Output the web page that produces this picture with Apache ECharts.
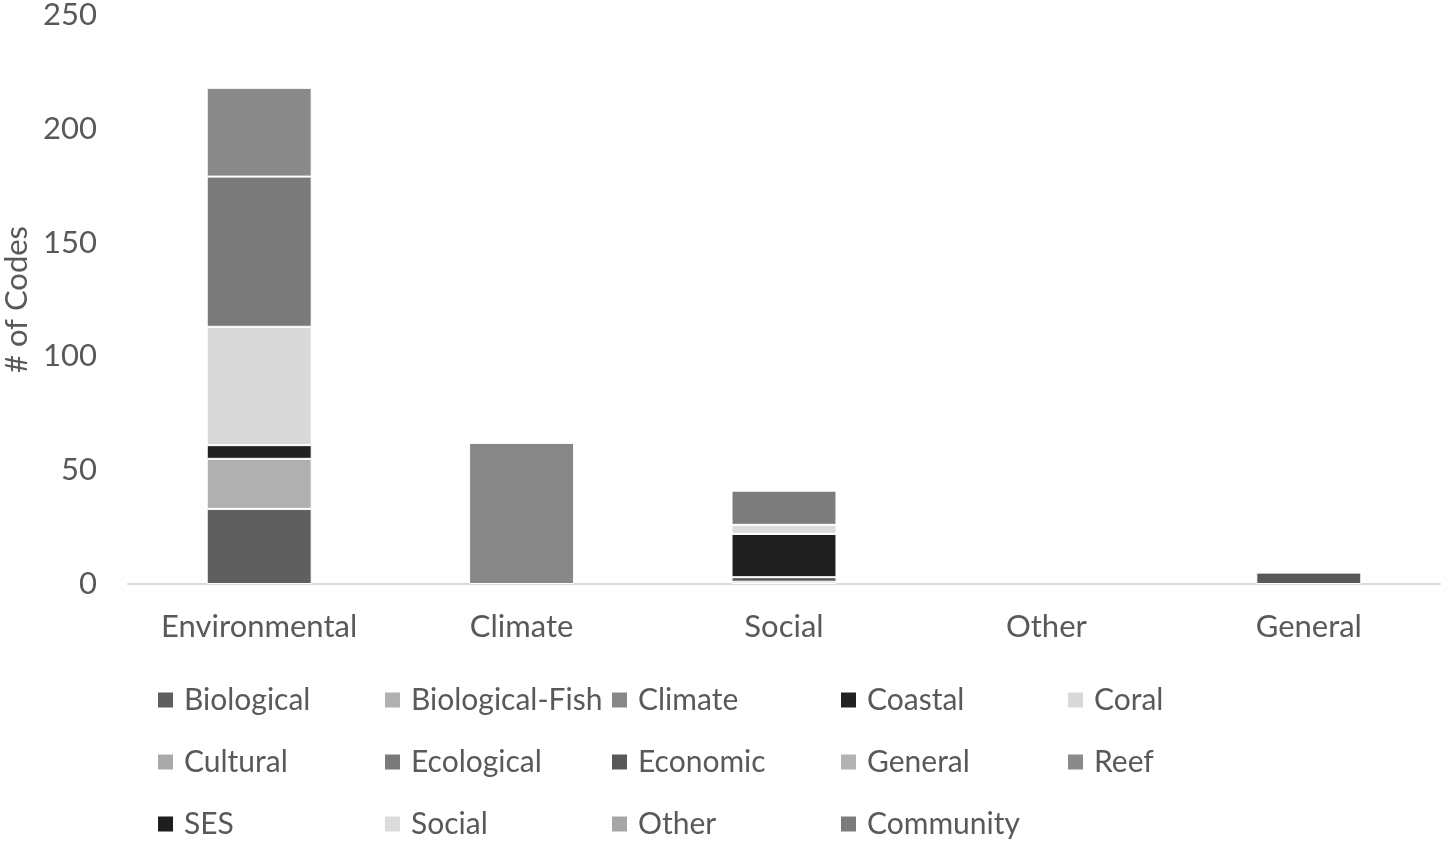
<!DOCTYPE html>
<html>
<head>
<meta charset="utf-8">
<script src="https://cdn.jsdelivr.net/npm/echarts@6/dist/echarts.min.js"></script>
<style>
  html, body { margin: 0; padding: 0; background: #fff; }
  #chart { width: 1450px; height: 848px; }
</style>
</head>
<body>
<div id="chart"></div>
<script>
// categories on the x axis
var categories = ['Environmental', 'Climate', 'Social', 'Other', 'General'];

// code counts per category, one array per code
var biological     = [33, 0, 0, 0, 0];
var biologicalFish = [22, 0, 0, 0, 0];
var climate        = [0, 62, 0, 0, 0];
var coastal        = [6, 0, 0, 0, 0];
var coral          = [52, 0, 0, 0, 0];
var cultural       = [0, 0, 1, 0, 0];
var ecological     = [66, 0, 0, 0, 0];
var economic       = [0, 0, 2, 0, 5];
var general        = [0, 0, 0, 0, 0];
var reef           = [39, 0, 0, 0, 0];
var ses            = [0, 0, 19, 0, 0];
var social         = [0, 0, 4, 0, 0];
var other          = [0, 0, 0, 0, 0];
var community      = [0, 0, 15, 0, 0];

var yTicks = [0, 50, 100, 150, 200, 250];

var seriesDefs = [
  ['Biological', biological, '#5f5f5f'],
  ['Biological-Fish', biologicalFish, '#b0b0b0'],
  ['Climate', climate, '#878787'],
  ['Coastal', coastal, '#212121'],
  ['Coral', coral, '#d9d9d9'],
  ['Cultural', cultural, '#aaaaaa'],
  ['Ecological', ecological, '#7a7a7a'],
  ['Economic', economic, '#595959'],
  ['General', general, '#b3b3b3'],
  ['Reef', reef, '#8a8a8a'],
  ['SES', ses, '#1e1e1e'],
  ['Social', social, '#dcdcdc'],
  ['Other', other, '#a6a6a6'],
  ['Community', community, '#7c7c7c']
];

var FONT = 'Lato';
var TXT = '#595959';

var series = seriesDefs.map(function (d) {
  return {
    name: d[0],
    type: 'bar',
    stack: 'codes',
    barWidth: '40%',
    itemStyle: { color: d[2], borderColor: '#fff', borderWidth: 1 },
    // zero counts drawn as nothing so no white edge sits on the axis
    data: d[1].map(function (v) { return v === 0 ? null : v; })
  };
});

// legend laid out as a 5-column grid, one legend block per code
var colX = [156, 383, 610, 839, 1066];
var rowY = [700, 762, 824];
var legends = seriesDefs.map(function (d, i) {
  return {
    data: [d[0]],
    left: colX[i % 5],
    top: rowY[Math.floor(i / 5)] - 15,
    padding: 0,
    icon: 'rect',
    itemWidth: 17,
    itemHeight: 17,
    textStyle: { fontFamily: FONT, fontSize: 30, lineHeight: 30, color: TXT, padding: [0, 0, 0, 5] },
    selectedMode: false
  };
});

var myChart = echarts.init(document.getElementById('chart'));
myChart.setOption({
  animation: false,
  backgroundColor: '#fff',
  grid: { left: 128, right: 10, top: 15, bottom: 264, containLabel: false, outerBoundsMode: 'none' },
  legend: legends,
  xAxis: {
    type: 'category',
    data: categories,
    axisLine: { lineStyle: { color: '#d9d9d9', width: 2 } },
    axisTick: { show: false },
    axisLabel: { fontFamily: FONT, fontSize: 31, color: TXT, margin: 27 }
  },
  yAxis: {
    type: 'value',
    min: yTicks[0],
    max: yTicks[yTicks.length - 1],
    interval: yTicks[1] - yTicks[0],
    name: '# of Codes',
    nameLocation: 'middle',
    nameRotate: 90,
    nameGap: 96,
    nameTextStyle: { fontFamily: FONT, fontSize: 31, color: TXT },
    axisLine: { show: false },
    axisTick: { show: false },
    splitLine: { show: false },
    axisLabel: { fontFamily: FONT, fontSize: 31, color: TXT, margin: 31 }
  },
  series: series
});
</script>
</body>
</html>
